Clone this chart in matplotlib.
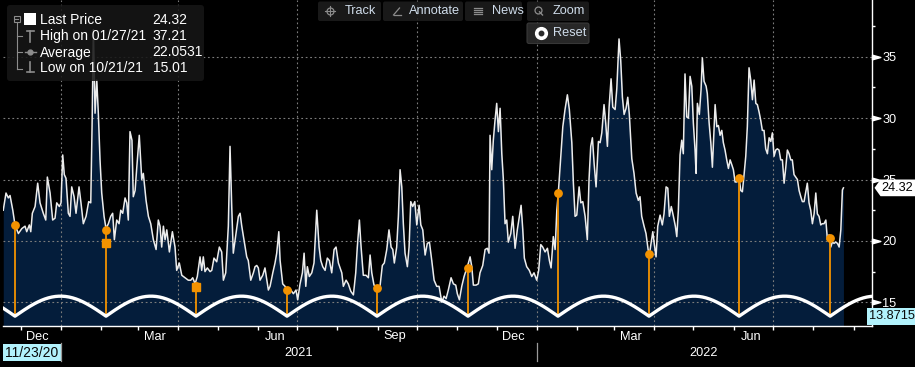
import numpy as np
import pandas as pd
import matplotlib
matplotlib.use("Agg")
import matplotlib.pyplot as plt
import matplotlib.transforms as mtrans
from matplotlib.patches import FancyBboxPatch, Rectangle, Polygon
from matplotlib.path import Path

plt.rcParams['font.family'] = ['Liberation Sans', 'DejaVu Sans']

# ---------------- data (days since 2021-01-01, VIX-like level) ----------------
BASE = pd.Timestamp('2021-01-01')

days_a = [-44.3, -42.2, -40.4, -39.1, -37.0, -35.3, -32.7, -30.1, -27.6, -26.3, -24.3, -23.2, -22.0, -19.9,
          -17.9, -16.1, -13.6, -11.7, -10.5, -8.4, -6.4, -4.6, -3.3, -1.3, 0.0, 1.3, 2.5, 3.8, 5.6, 6.9, 8.2,
          10.0, 11.5, 13.8, 15.3, 17.1, 19.2, 21.2, 22.8, 23.8, 24.8, 26.1, 27.4, 28.6, 29.9, 31.2, 33.0, 34.5,
          36.3, 38.1, 39.6, 40.9, 42.7, 44.5, 45.8, 47.3, 49.1, 50.4, 51.6, 52.9, 54.4, 55.4, 56.8, 58.1, 60.0,
          61.9, 63.1, 65.2, 67.0, 68.8, 70.8, 72.9, 74.6, 75.9, 77.2, 78.5, 79.8, 81.1, 83.1]
vals_a = [22.5, 23.9, 23.5, 23.7, 22.5, 21.3, 20.6, 21.0, 21.2, 20.75, 21.3, 20.75, 22.25, 22.8,
          24.7, 23.1, 22.25, 21.7, 25.2, 23.9, 21.7, 21.85, 23.1, 22.8, 23.1, 27.0, 25.4, 25.1, 22.25, 22.0, 24.4,
          23.6, 22.25, 24.4, 23.1, 21.4, 22.0, 23.2, 23.1, 29.3, 37.21, 30.4, 33.1, 30.4, 26.6, 23.9, 22.0, 21.0,
          21.4, 22.0, 22.25, 20.1, 21.7, 21.4, 22.5, 22.25, 23.5, 23.1, 21.7, 28.9, 28.2, 23.6, 24.1, 26.0, 28.6,
          25.0, 25.5, 23.3, 22.0, 21.4, 20.1, 19.3, 21.7, 21.2, 19.5, 21.2, 20.1, 20.9, 19.1]

days_b = [85.4, 87.4, 88.7, 90.7, 92.6, 95.1, 97.6, 99.5, 101.0, 102.8, 104.5, 106.6, 107.9, 109.1, 110.4,
          112.2, 114.3, 115.6, 117.3, 119.4, 121.4, 123.2, 124.5, 126.3, 128.3, 129.6, 130.9, 132.1, 134.2,
          136.0, 137.3, 138.6, 140.3, 142.4, 143.6, 145.5, 147.5, 148.8, 150.1, 151.3, 152.6, 154.7, 156.4,
          157.8, 159.0, 160.3, 162.4, 164.1, 165.4, 167.0, 168.0, 170.0, 171.8, 174.3, 176.2, 178.2, 180.2,
          181.5, 183.3, 185.1, 186.4, 187.7, 188.9, 190.4, 192.3, 194.0, 196.1, 197.9, 199.2, 200.7, 202.5,
          204.2, 205.8, 207.6, 209.4, 210.9, 212.7]
vals_b = [20.75, 19.5, 17.6, 18.2, 17.2, 17.0, 16.8, 16.8, 17.0, 16.5, 17.1, 18.7, 17.6, 18.7, 17.5,
          17.8, 17.5, 17.6, 18.6, 18.3, 19.5, 19.1, 16.8, 17.4, 21.2, 27.7, 22.8, 19.0, 20.6,
          22.0, 22.25, 21.2, 20.1, 18.7, 18.4, 16.8, 17.4, 17.9, 18.0, 17.8, 16.8, 17.2, 17.8,
          16.8, 16.0, 16.3, 17.4, 18.2, 19.0, 20.75, 18.4, 16.5, 16.3, 15.9, 16.0, 15.7, 16.0,
          15.2, 16.5, 17.4, 19.0, 16.3, 17.9, 17.1, 17.4, 18.2, 22.5, 19.5, 18.4, 17.9, 17.6,
          18.6, 18.4, 17.4, 19.3, 19.5, 18.2]

days_c = [215.3, 216.5, 218.6, 220.3, 222.2, 224.2, 226.0, 227.2, 228.8, 230.1, 231.8, 233.9, 235.7, 237.0,
          238.3, 240.0, 242.1, 244.6, 246.4, 247.9, 249.8, 251.5, 253.1, 254.4, 255.6, 257.4, 258.7, 260.0,
          261.3, 262.5, 263.8, 265.6, 266.9, 268.2, 269.7, 271.3, 272.8, 274.6, 275.9, 277.4, 279.2, 280.9,
          282.5, 284.3, 286.1, 288.1, 289.9, 292.0, 293.7, 295.3, 297.0, 299.1, 300.9, 302.7, 303.9, 305.5,
          307.3, 309.1, 310.6, 312.4, 313.7, 315.0, 316.2, 318.3, 320.0, 321.3, 323.4, 325.2, 326.9, 328.2,
          329.0, 330.3, 331.5, 332.8, 334.1, 335.4, 336.7, 338.0, 339.2, 340.5, 341.8, 343.0, 344.9]
vals_c = [17.4, 16.3, 16.8, 16.5, 15.9, 15.6, 17.4, 19.5, 21.7, 19.5, 17.2, 17.2, 17.0, 18.85,
          17.4, 16.4, 16.3, 16.3, 18.0, 18.2, 19.3, 20.9, 19.5, 19.3, 18.2, 19.5, 22.0, 25.8,
          24.4, 21.4, 19.0, 17.9, 19.5, 23.2, 22.8, 23.2, 21.3, 22.9, 21.3, 20.9, 18.85, 19.8,
          19.9, 18.4, 16.8, 16.3, 16.3, 15.01, 15.5, 15.3, 16.0, 17.0, 16.5, 16.4, 15.7, 15.2,
          16.3, 17.1, 17.6, 18.2, 18.7, 17.9, 16.4, 16.4, 16.5, 17.4, 18.0, 19.3, 19.4, 19.0,
          28.6, 25.8, 28.2, 29.8, 31.2, 28.9, 30.8, 27.1, 25.0, 21.4, 21.7, 19.9, 20.6]

days_d = [346.4, 348.2, 349.9, 351.5, 352.8, 354.1, 355.3, 357.1, 359.1, 361.0, 362.7, 364.8, 366.3, 367.9,
          369.4, 371.2, 373.0, 374.5, 375.8, 377.5, 378.9, 380.2, 381.4, 382.7, 384.8, 386.5, 388.3, 389.8,
          391.7, 392.9, 394.2, 395.5, 397.3, 398.6, 400.1, 401.9, 403.6, 404.9, 406.2, 407.5, 408.8, 410.3,
          412.1, 413.4, 414.7, 416.4, 417.7, 419.0, 420.3, 421.8, 423.1, 424.9, 426.2, 427.9, 429.2, 430.5,
          431.8, 433.3, 434.6, 435.8, 437.7, 439.4, 441.0, 442.7, 444.0, 445.3, 447.1, 448.6, 450.2, 451.2,
          452.5, 453.8, 455.0, 456.3, 457.6, 459.4, 461.1, 462.4, 464.0, 465.3, 466.5, 468.0, 469.6, 471.1,
          472.2, 473.4]
vals_d = [22.0, 19.4, 20.9, 22.0, 22.9, 20.9, 18.6, 17.9, 17.6, 17.1, 17.4, 16.8, 17.6, 19.7,
          19.5, 19.1, 19.4, 18.4, 17.8, 20.35, 19.3, 22.5, 24.0, 26.0, 29.3, 30.7, 31.9, 30.7,
          28.0, 24.7, 22.0, 22.1, 24.4, 23.1, 23.2, 22.0, 20.1, 25.0, 27.7, 28.4, 26.3, 24.4,
          28.1, 28.0, 28.8, 31.1, 29.6, 27.7, 30.9, 33.2, 30.9, 30.7, 32.4, 36.45, 34.7, 31.7,
          30.3, 30.8, 31.7, 30.3, 26.7, 25.5, 23.9, 23.3, 23.6, 22.0, 21.2, 20.6, 19.3, 18.9,
          19.8, 20.75, 19.7, 18.7, 21.2, 22.1, 21.3, 22.2, 24.4, 24.3, 22.0, 22.8, 22.0, 21.2,
          20.35, 22.5]

days_e = [474.7, 476.0, 477.2, 478.5, 479.8, 481.1, 482.4, 483.7, 484.9, 486.2, 487.0, 488.0, 489.5, 490.8,
          491.8, 493.1, 494.7, 495.6, 497.0, 498.3, 499.5, 500.3, 501.6, 502.9, 504.1, 505.4, 506.7, 507.9,
          509.2, 510.5, 511.8, 513.1, 514.4, 515.6, 516.9, 518.2, 520.0, 521.3, 522.5, 523.8, 525.1, 526.3,
          527.6, 528.9, 530.2, 531.5, 532.8, 534.0, 535.3, 536.6, 537.8, 539.1, 540.4, 541.7, 543.0, 544.3,
          545.5, 546.8, 548.1, 549.3, 550.6, 551.9, 553.2, 554.5, 555.8, 557.0, 558.3, 559.6, 560.8, 562.1,
          563.4, 564.7, 566.0, 567.3, 568.5, 569.8, 571.1, 572.3, 573.6, 574.9, 576.2, 577.5, 578.8, 580.0,
          581.3, 582.6, 583.8, 585.1, 586.5, 587.7, 589.0, 590.3, 591.5, 592.8, 594.1, 595.4, 596.7, 598.0,
          599.2, 600.0]
vals_e = [27.0, 28.2, 27.1, 33.6, 30.1, 30.0, 33.4, 32.6, 29.6, 27.4, 25.5, 31.2, 30.3, 32.3,
          34.9, 33.0, 32.6, 32.0, 29.6, 28.0, 26.0, 28.0, 31.1, 29.3, 29.4, 28.6, 29.0, 28.0,
          27.4, 26.6, 25.9, 26.6, 26.2, 25.8, 24.8, 24.8, 25.1, 24.1, 24.0, 25.4, 26.9, 29.3,
          34.1, 33.1, 31.5, 33.1, 31.2, 31.1, 30.5, 29.8, 29.0, 29.0, 27.5, 27.1, 28.4, 28.1,
          28.8, 26.9, 27.4, 27.5, 27.4, 26.6, 26.6, 24.7, 26.0, 27.4, 27.1, 26.6, 26.6, 25.4,
          25.2, 25.0, 24.1, 23.6, 23.2, 23.2, 24.0, 24.7, 23.1, 22.5, 21.4, 22.2, 23.9, 22.2,
          22.0, 21.3, 21.4, 21.4, 21.7, 20.1, 20.5, 19.5, 19.9, 19.8, 19.9, 19.8, 19.5, 20.9,
          24.15, 24.32]

# cycle turning points (days) and the marked prices on the curve
cycle_days = [-35.3, 34.5, 103.5, 173.3, 242.3, 312.1, 381.1, 450.9, 520.0, 589.8]
cycle_circle_vals = [21.3, 20.9, 16.3, 16.0, 16.15, 17.8, 23.9, 18.9, 25.1, 20.2]
square_days = [34.5, 103.5]
square_vals = [19.83, 16.22]
ARC_LOW = 13.8715
ARC_TOP = 15.5

legend_rows = [("Last Price", "24.32"), ("High on 01/27/21", "37.21"),
               ("Average", "22.0531"), ("Low on 10/21/21", "15.01")]
y_ticks = [15, 20, 25, 30, 35]
y_minor = [17.5, 22.5, 27.5, 32.5, 37.5]
month_labels = [("2020-12-14", "Dec"), ("2021-03-14", "Mar"), ("2021-06-14", "Jun"), ("2021-09-14", "Sep"),
                ("2021-12-14", "Dec"), ("2022-03-14", "Mar"), ("2022-06-14", "Jun")]
year_labels = [("2021-07-02", "2021"), ("2022-05-09", "2022")]
quarter_grid = ["2021-01-01", "2021-04-01", "2021-07-01", "2021-10-01", "2022-01-01", "2022-04-01", "2022-07-01"]
start_label = "11/23/20"
last_price = 24.32

# ---------------- styling ----------------
NAVY = '#041d3b'
ORANGE = '#f39200'
GRID = '#7c7c7c'
CYAN = '#b2f2fc'
W, H = 915, 367
YLO, YHI = 13.07, 39.62
XLO, XHI = -44.5, 621.9


def to_date(d):
    return BASE + pd.to_timedelta(np.asarray(d, dtype=float), unit='D')


days = np.concatenate([days_a, days_b, days_c, days_d, days_e])
vals = np.concatenate([vals_a, vals_b, vals_c, vals_d, vals_e])
dates = to_date(days)

fig = plt.figure(figsize=(W / 100, H / 100), dpi=100, facecolor='black')
ax = fig.add_axes([3 / W, 41 / H, 869 / W, 326 / H])
ax.set_facecolor('black')
ax.set_xlim(to_date([XLO])[0], to_date([XHI])[0])
ax.set_ylim(YLO, YHI)

# area + line
ax.fill_between(dates, vals, YLO, color=NAVY, lw=0, zorder=1)
for y in y_ticks:
    ax.axhline(y, color=GRID, lw=0.8, ls=(0, (1.6, 2.4)), zorder=2)
for q in quarter_grid:
    ax.axvline(pd.Timestamp(q), color=GRID, lw=0.8, ls=(0, (1.6, 2.4)), zorder=2)
ax.plot(dates, vals, color='#ececec', lw=1.1, zorder=3)

# cycle arcs
cyc = np.array(cycle_days)
period = np.mean(np.diff(cyc))
knots = np.concatenate([[cyc[0] - period], cyc, [cyc[-1] + period]])
arc_t, arc_y = [], []
for a, b in zip(knots[:-1], knots[1:]):
    t = np.linspace(a, b, 80)
    arc_t.append(t)
    arc_y.append(ARC_LOW + (ARC_TOP - ARC_LOW) * np.sin(np.pi * (t - a) / (b - a)))
arc_t = np.concatenate(arc_t)
arc_y = np.concatenate(arc_y)
ax.vlines(to_date(cycle_days), ARC_LOW, cycle_circle_vals, color=ORANGE, lw=1.3, zorder=4)
ax.plot(to_date(arc_t), arc_y, color='white', lw=2.4, zorder=4.5, solid_capstyle='butt')
ax.plot(to_date(cycle_days), cycle_circle_vals, 'o', ms=5.3, color=ORANGE, zorder=5)
ax.plot(to_date(square_days), square_vals, 's', ms=5.6, color=ORANGE, zorder=5)

# spines / ticks
for s in ('top', 'left'):
    ax.spines[s].set_visible(False)
for s in ('right', 'bottom'):
    ax.spines[s].set_color('white')
    ax.spines[s].set_linewidth(1.0)
ax.yaxis.tick_right()
ax.set_yticks(y_ticks)
ax.set_yticks(y_minor, minor=True)
ax.tick_params(axis='y', which='major', length=0, pad=7.5, labelsize=9.2, labelcolor='white',
               left=False, labelleft=False, right=True, labelright=True)
ax.tick_params(axis='y', which='minor', length=2.5, width=1, color='white', direction='out',
               left=False, right=True)
months = pd.date_range('2020-12-01', '2022-09-01', freq='MS')
ax.set_xticks(months)
ax.tick_params(axis='x', which='major', length=3, width=1, color='white', direction='out', labelbottom=False)
ax.xaxis.set_minor_locator(matplotlib.ticker.NullLocator())

tri = Path([(0, -0.28), (1, 0), (0, 0.28), (0, -0.28)], [Path.MOVETO, Path.LINETO, Path.LINETO, Path.CLOSEPOLY])
ybl = mtrans.blended_transform_factory(ax.transAxes, ax.transData)
ax.plot([1.0] * len(y_ticks), y_ticks, ls='none', marker=tri, ms=12, color='white',
        transform=ybl, clip_on=False, zorder=6)

# ---------------- overlay in pixel coordinates ----------------
ov = fig.add_axes([0, 0, 1, 1])
ov.set_xlim(0, W)
ov.set_ylim(H, 0)
ov.axis('off')
ov.patch.set_visible(False)
ov.set_zorder(5)

xb = mtrans.blended_transform_factory(ax.transData, ov.transData)
for d, lab in month_labels:
    ov.text(pd.Timestamp(d), 336.5, lab, transform=xb, ha='center', va='center', color='white', fontsize=9.2)
for d, lab in year_labels:
    ov.text(pd.Timestamp(d), 352.5, lab, transform=xb, ha='center', va='center', color='white', fontsize=9.2)
for d in ["2021-01-01", "2022-01-01"]:
    ov.plot([pd.Timestamp(d)] * 2, [343, 361], transform=xb, color='#9a9a9a', lw=0.9)
ov.add_patch(Rectangle((3, 344), 58, 17, fc=CYAN, ec='none'))
ov.text(4.5, 352.8, start_label, ha='left', va='center', color='#0a0a0a', fontsize=10)

# right-hand value boxes (the last-price box sits over the "25" label, as in the reference)
pb = mtrans.blended_transform_factory(ov.transData, ax.transData)
hh = 0.68
ov.add_patch(Polygon([(874.5, last_price), (880.5, last_price + hh), (915, last_price + hh),
                      (915, last_price - hh), (880.5, last_price - hh)], closed=True,
                     fc='white', ec='none', transform=pb))
ov.text(881.5, last_price, f"{last_price:.2f}", transform=pb, ha='left', va='center', color='black', fontsize=9.2)
ov.add_patch(Rectangle((866.5, ARC_LOW - hh), 48.5, 2 * hh, fc=CYAN, ec='none', transform=pb))
ov.text(914.5, ARC_LOW, f"{ARC_LOW:.4f}", transform=pb, ha='right', va='center', color='#0a0a0a', fontsize=9.2)

# legend box
ov.add_patch(FancyBboxPatch((7, 5), 197, 76, boxstyle='round,pad=0,rounding_size=3',
                            fc='#161616', ec='none', alpha=0.88))
gray = '#8c8c8c'
ov.add_patch(Rectangle((13.5, 15.5), 6, 6, fc='none', ec=gray, lw=0.8))
ov.plot([14.8, 18.2], [18.5, 18.5], color=gray, lw=0.8)
ov.plot([16.7, 16.7], [21.5, 68.5], color=gray, lw=0.8)
for yy in (36, 52, 68.5):
    ov.plot([16.7, 22], [yy, yy], color=gray, lw=0.8)
ov.add_patch(Rectangle((24, 13.3), 11.7, 11.7, fc='white', ec='none'))
ov.plot([27, 33.5], [30.5, 30.5], color=gray, lw=1.2)
ov.plot([30.2, 30.2], [30.5, 41.5], color=gray, lw=1.2)
ov.plot([24.5, 36], [51.8, 51.8], color=gray, lw=1.0)
ov.plot([30.2], [51.8], 'o', ms=3.5, color=gray)
ov.plot([30.2, 30.2], [62, 71.5], color=gray, lw=1.2)
ov.plot([27, 33.5], [71.5, 71.5], color=gray, lw=1.2)
for i, (lab, val) in enumerate(legend_rows):
    yy = [20.5, 36.2, 52.5, 68.5][i]
    ov.text(40, yy, lab, ha='left', va='center', color='white', fontsize=10)
    ov.text(152.5, yy, val, ha='left', va='center', color='white', fontsize=10)

# toolbar
tcol = '#cfdcea'
buttons = [(318, 63, "Track", 345), (383, 80, "Annotate", 409), (465, 57, "News", 492), (527, 62, "Zoom", 553)]
for x0, w, lab, tx in buttons:
    ov.add_patch(FancyBboxPatch((x0, 1.5), w, 19.5, boxstyle='round,pad=0,rounding_size=2',
                                fc='#1c1c1c', ec='none', alpha=0.9))
    ov.text(tx, 11.3, lab, ha='left', va='center', color=tcol, fontsize=9.2)
# icons
ov.plot([330], [11], marker='o', ms=5, mfc='none', mec=gray, mew=0.9)
ov.plot([325, 335], [11, 11], color=gray, lw=0.8)
ov.plot([330, 330], [6, 16], color=gray, lw=0.8)
ov.plot([393.5, 400.5], [15, 15], color=gray, lw=0.9)
ov.plot([393.5, 399.5], [15, 8], color=gray, lw=0.9)
for yy in (7.5, 9.8, 12.1, 14.4):
    ov.plot([473.5, 481.5], [yy, yy], color=gray, lw=0.9)
ov.plot([537.5], [9.5], marker='o', ms=5, mfc='none', mec=gray, mew=0.9)
ov.plot([539.5, 542.5], [11.8, 15], color=gray, lw=1.0)
ov.add_patch(FancyBboxPatch((527, 23), 62, 20.5, boxstyle='round,pad=0,rounding_size=2',
                            fc='#2a2a2a', ec='#3a3a3a', lw=0.8, alpha=0.95))
ov.plot([540.5], [33], marker='o', ms=8.5, mfc='white', mec='white')
ov.plot([540.5], [33], marker='o', ms=3.2, mfc='#2a2a2a', mec='#2a2a2a')
ov.text(553, 32.8, "Reset", ha='left', va='center', color=tcol, fontsize=9.2)

fig.savefig('out.png', dpi=100, facecolor='black')
